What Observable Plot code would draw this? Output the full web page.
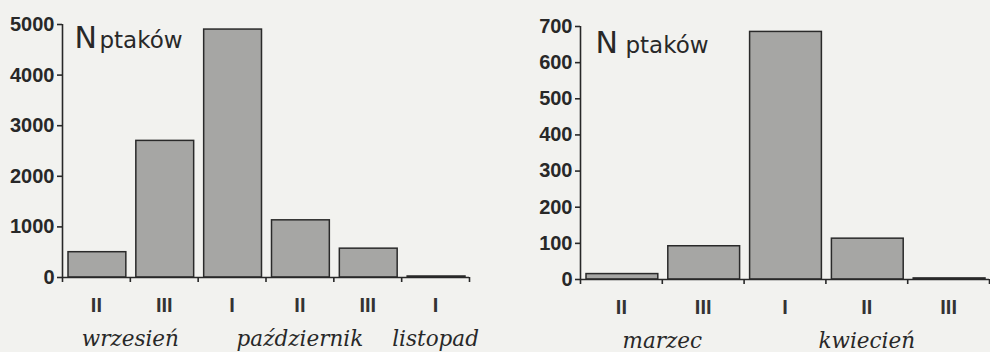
<!DOCTYPE html>
<html><head><meta charset="utf-8">
<script src="https://cdn.jsdelivr.net/npm/d3@7"></script>
<script src="https://cdn.jsdelivr.net/npm/@observablehq/plot@0.6"></script>
<style>
html,body{margin:0;padding:0;background:#f2f2ef;}
#wrap{display:flex;width:990px;height:352px;overflow:hidden;}
</style></head><body><div id="wrap"></div>
<script>
// Jesień (autumn)
const dekadyJesien = ["II", "III", "I", "II", "III", "I"];
const ptakiJesien = [500, 2700, 4900, 1130, 570, 20];
const miesiaceJesien = ["wrzesień", "październik", "listopad"];
const dekadyNaMiesiacJesien = [2, 3, 1];
const yTicksJesien = [0, 1000, 2000, 3000, 4000, 5000];

// Wiosna (spring)
const dekadyWiosna = ["II", "III", "I", "II", "III"];
const ptakiWiosna = [15, 92, 685, 113, 3];
const miesiaceWiosna = ["marzec", "kwiecień"];
const dekadyNaMiesiacWiosna = [2, 3];
const yTicksWiosna = [0, 100, 200, 300, 400, 500, 600, 700];

const ink = "#282828";

function chart(o) {
  const n = o.dekady.length;
  const bars = o.dekady.map((d, i) => ({i, d, v: o.ptaki[i]}));
  let start = 0;
  const months = o.miesiace.map((m, k) => {
    const c = start + o.spans[k] / 2;
    start += o.spans[k];
    return {m, c};
  });
  const bounds = d3.range(n + 1);
  const yMax = o.yTicks[o.yTicks.length - 1];
  return Plot.plot({
    width: o.width,
    height: 352,
    marginLeft: o.marginLeft,
    marginRight: o.marginRight,
    marginTop: o.marginTop,
    marginBottom: o.marginBottom,
    style: {fontFamily: "DejaVu Sans", color: ink, background: "transparent", overflow: "visible"},
    x: {domain: [0, n]},
    y: {domain: [0, yMax]},
    marks: [
      Plot.rectY(bars, {x1: d => d.i, x2: d => d.i + 1, y: "v", insetLeft: 6, insetRight: 4,
        fill: "#a6a6a4", stroke: "#2a2a2a", strokeWidth: 1.5}),
      Plot.ruleY([0], {stroke: ink, strokeWidth: 1.6}),
      Plot.ruleX([0], {y1: 0, y2: yMax, stroke: ink, strokeWidth: 1.6}),
      Plot.axisY({ticks: o.yTicks, tickSize: 5, tickPadding: 3, tickFormat: d => String(d),
        label: null, fontFamily: "Liberation Sans, Arial, sans-serif", fontSize: 20, fontWeight: "bold", strokeWidth: 1.6}),
      Plot.axisX({ticks: bounds, tickSize: 5, tickFormat: () => "", label: null, strokeWidth: 1.6}),
      Plot.text(bars, {x: d => d.i + 0.5, y: 0, text: "d", dy: 34, lineAnchor: "bottom",
        fontFamily: "Liberation Sans Narrow, Arial Narrow, sans-serif", fontWeight: "bold", fontSize: 20, fill: "#333"}),
      Plot.text(months, {x: "c", y: 0, text: "m", dy: 68, lineAnchor: "bottom",
        fontFamily: "DejaVu Serif", fontStyle: "italic", fontSize: 21.5, fill: ink}),
      Plot.text(["N"], {frameAnchor: "top-left", dx: o.nDx, dy: o.titleDy, lineAnchor: "bottom", fontSize: 30, fill: ink}),
      Plot.text(["ptaków"], {frameAnchor: "top-left", dx: o.pDx, dy: o.titleDy, lineAnchor: "bottom", fontSize: 23, fill: ink})
    ]
  });
}

const wrap = document.getElementById("wrap");
wrap.appendChild(chart({
  dekady: dekadyJesien, ptaki: ptakiJesien, miesiace: miesiaceJesien, spans: dekadyNaMiesiacJesien,
  yTicks: yTicksJesien, width: 500, marginLeft: 62, marginRight: 31, marginTop: 24, marginBottom: 75,
  nDx: 12, pDx: 37, titleDy: 23
}));
wrap.appendChild(chart({
  dekady: dekadyWiosna, ptaki: ptakiWiosna, miesiace: miesiaceWiosna, spans: dekadyNaMiesiacWiosna,
  yTicks: yTicksWiosna, width: 490, marginLeft: 80, marginRight: 1, marginTop: 26, marginBottom: 73,
  nDx: 15, pDx: 45, titleDy: 26
}));
</script>
</body></html>
